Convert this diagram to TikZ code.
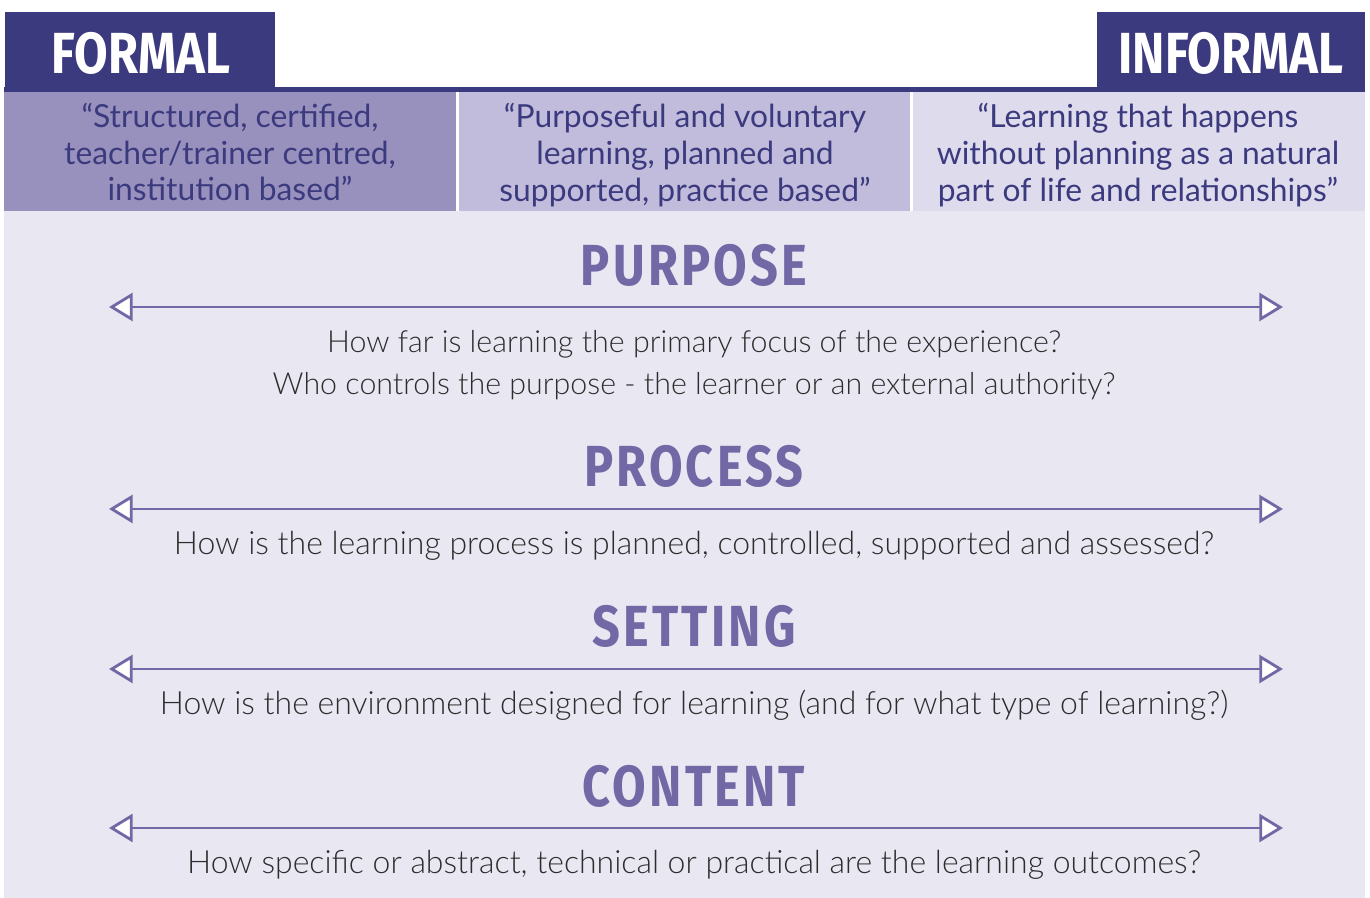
\documentclass[tikz,border=0pt]{standalone}
\usepackage{fontspec}
\setmainfont{Lato}
\newfontfamily\lightfont{Lato Light}
\newfontfamily\tabfont[FakeStretch=0.84]{Fira Sans Bold}
\newfontfamily\headfont[FakeStretch=0.84, LetterSpace=5.5]{Fira Sans Bold}
\usetikzlibrary{arrows.meta}
\definecolor{tabdark}{RGB}{60,58,126}
\definecolor{boxone}{RGB}{152,145,189}
\definecolor{boxtwo}{RGB}{193,188,220}
\definecolor{boxthree}{RGB}{221,219,236}
\definecolor{panelbg}{RGB}{233,231,242}
\definecolor{headpurple}{RGB}{114,104,166}
\definecolor{bodygray}{RGB}{45,45,45}

\tikzset{
  tabtitle/.style={text=white, font=\tabfont\fontsize{33}{33}\selectfont},
  quotetext/.style={text=tabdark, align=center, font=\fontsize{18.1}{21}\selectfont},
  dimension/.style={text=headpurple, font=\headfont\fontsize{33}{33}\selectfont},
  question/.style={text=bodygray, align=center, font=\lightfont\fontsize{17.3}{23.8}\selectfont},
  questionwide/.style={question, font=\lightfont\fontsize{18.2}{23.8}\selectfont},
  scalearrow/.style={draw=headpurple, line width=1.6pt,
    {Triangle[fill=white, length=13.5pt, width=16pt]}-{Triangle[fill=white, length=13.5pt, width=16pt]}},
}

\begin{document}
\begin{tikzpicture}[x=0.02cm, y=-0.02cm]
\useasboundingbox (0,0) rectangle (1370,898);

% tabs and header bar
\fill[tabdark] (5,12) rectangle (275,92);
\fill[tabdark] (1097,12) rectangle (1365,92);
\fill[tabdark] (4,87) rectangle (1365,92);
\node[tabtitle] (formal) at (141,53) {FORMAL};
\node[tabtitle] (informal) at (1231,53) {INFORMAL};

% the three definitions
\fill[boxone] (4,92) rectangle (456,211);
\fill[boxtwo] (459,92) rectangle (910,211);
\fill[boxthree] (913,92) rectangle (1365,211);
\node[quotetext] (defformal) at (230,152) {“Structured, certified,\\teacher/trainer centred,\\institution based”};
\node[quotetext] (defnonformal) at (685,155) {“Purposeful and voluntary\\learning, planned and\\supported, practice based”};
\node[quotetext] (definformal) at (1138,155) {“Learning that happens\\without planning as a natural\\part of life and relationships”};

% panel
\fill[panelbg] (4,211) rectangle (1365,898);

\node[dimension] (purpose) at (694,265) {PURPOSE};
\coordinate (purposeL) at (109,307);
\coordinate (purposeR) at (1283,307);
\draw[scalearrow] (purposeL) -- (purposeR);
\node[question] (purposeq) at (694,365) {How far is learning the primary focus of the experience?\\Who controls the purpose - the learner or an external authority?};

\node[dimension] (process) at (694,466) {PROCESS};
\coordinate (processL) at (109,509);
\coordinate (processR) at (1283,509);
\draw[scalearrow] (processL) -- (processR);
\node[questionwide] (processq) at (694,546) {How is the learning process is planned, controlled, supported and assessed?};

\node[dimension] (setting) at (694,626) {SETTING};
\coordinate (settingL) at (109,669);
\coordinate (settingR) at (1283,669);
\draw[scalearrow] (settingL) -- (settingR);
\node[questionwide] (settingq) at (694,705) {How is the environment designed for learning (and for what type of learning?)};

\node[dimension] (content) at (694,786) {CONTENT};
\coordinate (contentL) at (109,828);
\coordinate (contentR) at (1283,828);
\draw[scalearrow] (contentL) -- (contentR);
\node[questionwide] (contentq) at (694,865) {How specific or abstract, technical or practical are the learning outcomes?};
\end{tikzpicture}
\end{document}
